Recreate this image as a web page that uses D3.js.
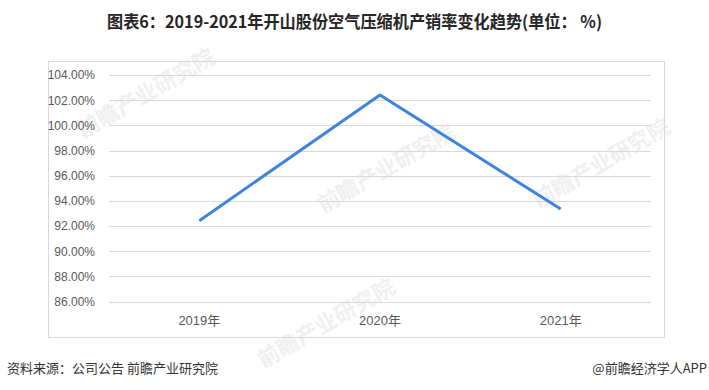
<!DOCTYPE html>
<html lang="zh">
<head>
<meta charset="utf-8">
<title>开山股份空气压缩机产销率</title>
<script src="https://d3js.org/d3.v7.min.js"></script>
<style>
    html, body { margin: 0; padding: 0; background: #fff; }
    text { font-family: "Noto Sans CJK SC", "Liberation Sans", sans-serif; }
    .grid line { stroke: #d9d9d9; stroke-width: 1px; shape-rendering: crispEdges; }
    .grid path { display: none; }
    .axis path, .axis line { display: none; }
    .axis text { fill: #595959; font-size: 12px; font-family: "Liberation Sans", "Noto Sans CJK SC", sans-serif; }
    .xaxis text { font-size: 13px; }
    .wm { fill: #f0f0f0; font-weight: bold; }
</style>
</head>
<body>
<script>
    // data
    var years = ["2019年", "2020年", "2021年"];
    var rates = [92.42, 102.41, 93.35];
    var yTicks = [86, 88, 90, 92, 94, 96, 98, 100, 102, 104];

    var w = 709, h = 390;
    var plot = {left: 109, right: 651, top: 75, bottom: 301.5};

    var svg = d3.select("body").append("svg")
        .attr("width", w)
        .attr("height", h);

    // faint watermarks
    var marks = [[150, 100], [390, 175], [605, 170], [330, 330]];
    marks.forEach(function(m) {
        svg.append("text")
            .attr("class", "wm")
            .attr("transform", "translate(" + m[0] + "," + m[1] + ") rotate(-30)")
            .attr("text-anchor", "middle")
            .attr("font-size", 22)
            .text("前瞻产业研究院");
    });

    // title
    svg.append("text")
        .attr("x", 107)
        .attr("y", 28)
        .attr("font-size", 17)
        .attr("font-weight", "bold")
        .attr("fill", "#262626")
        .attr("textLength", 495)
        .attr("lengthAdjust", "spacingAndGlyphs")
        .text("图表6：2019-2021年开山股份空气压缩机产销率变化趋势(单位： %)");

    // chart border
    svg.append("rect")
        .attr("x", 48.5).attr("y", 61.5)
        .attr("width", 616).attr("height", 276)
        .attr("fill", "none")
        .attr("stroke", "#d9d9d9");

    var xScale = d3.scaleBand()
        .domain(years)
        .range([plot.left, plot.right]);

    var yScale = d3.scaleLinear()
        .domain([86, 104])
        .range([plot.bottom, plot.top]);

    // gridlines
    svg.append("g")
        .attr("class", "grid")
        .attr("transform", "translate(" + plot.left + ",0)")
        .call(d3.axisLeft(yScale).tickValues(yTicks).tickSize(-(plot.right - plot.left)).tickFormat(""));

    // y axis
    svg.append("g")
        .attr("class", "axis")
        .attr("transform", "translate(" + (plot.left - 11) + ",0)")
        .call(d3.axisLeft(yScale).tickValues(yTicks).tickSize(0)
            .tickFormat(function(d) { return d.toFixed(2) + "%"; }));

    // x axis
    svg.append("g")
        .attr("class", "axis xaxis")
        .attr("transform", "translate(0," + (plot.bottom + 11) + ")")
        .call(d3.axisBottom(xScale).tickSize(0));

    var line = d3.line()
        .x(function(d, i) { return xScale(years[i]) + xScale.bandwidth() / 2; })
        .y(function(d) { return yScale(d); });

    svg.append("path")
        .datum(rates)
        .attr("d", line)
        .attr("fill", "none")
        .attr("stroke", "#3f83e0")
        .attr("stroke-width", 3)
        .attr("stroke-linejoin", "round");

    // footer
    svg.append("text")
        .attr("x", 7).attr("y", 373)
        .attr("font-size", 13)
        .attr("fill", "#333")
        .text("资料来源：公司公告 前瞻产业研究院");

    svg.append("text")
        .attr("x", 707).attr("y", 373)
        .attr("text-anchor", "end")
        .attr("font-size", 13)
        .attr("fill", "#333")
        .text("@前瞻经济学人APP");
</script>
</body>
</html>
